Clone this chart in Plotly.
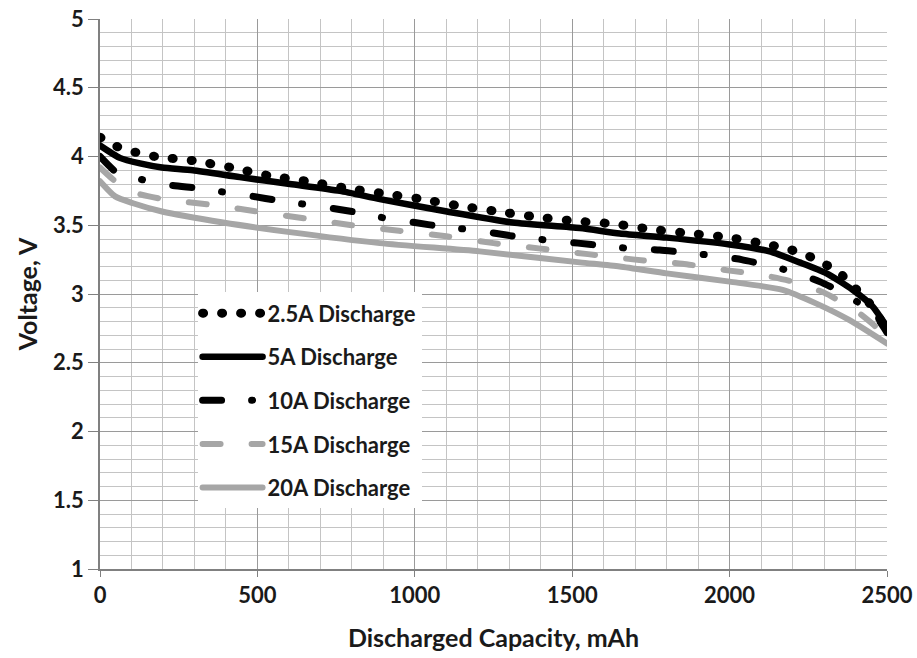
import plotly.graph_objects as go

# discharge curves (capacity in mAh, voltage in V)
cap_2_5a = [0, 57, 114, 175, 295, 416, 537, 657, 781, 902, 1022, 1143, 1264, 1387,
            1511, 1632, 1753, 1876, 2000, 2121, 2181, 2238, 2292, 2346, 2391, 2435, 2470, 2500]
volt_2_5a = [4.14, 4.07, 4.03, 4.00, 3.97, 3.92, 3.86, 3.82, 3.77, 3.73, 3.69, 3.64, 3.60, 3.56,
             3.53, 3.51, 3.47, 3.44, 3.41, 3.36, 3.33, 3.29, 3.23, 3.16, 3.06, 2.96, 2.85, 2.72]

cap_5a = [0, 63, 127, 197, 295, 444, 603, 762, 889, 1102, 1311, 1524, 1651, 1800,
          2000, 2127, 2222, 2308, 2391, 2454, 2500]
volt_5a = [4.08, 3.99, 3.95, 3.92, 3.90, 3.85, 3.80, 3.75, 3.69, 3.60, 3.52, 3.48, 3.44, 3.41,
           3.36, 3.31, 3.23, 3.15, 3.03, 2.91, 2.76]

cap_10a = [0, 55, 137, 228, 311, 397, 486, 565, 657, 746, 825, 910, 1000, 1086, 1168, 1260,
           1343, 1429, 1518, 1603, 1689, 1778, 1863, 1946, 2038, 2117, 2203, 2286, 2359, 2420,
           2470, 2500]
volt_10a = [4.00, 3.88, 3.83, 3.79, 3.77, 3.74, 3.71, 3.68, 3.65, 3.62, 3.59, 3.55, 3.52, 3.49,
            3.47, 3.44, 3.41, 3.39, 3.37, 3.35, 3.33, 3.32, 3.30, 3.28, 3.25, 3.21, 3.16, 3.09,
            3.01, 2.92, 2.82, 2.72]

cap_15a = [0, 54, 121, 200, 350, 500, 650, 800, 950, 1100, 1250, 1400, 1550, 1700, 1850,
           2000, 2100, 2200, 2300, 2400, 2460, 2500]
volt_15a = [3.92, 3.81, 3.73, 3.69, 3.65, 3.60, 3.55, 3.50, 3.46, 3.42, 3.37, 3.33, 3.29, 3.25,
            3.22, 3.17, 3.14, 3.09, 3.01, 2.88, 2.77, 2.68]

cap_20a = [0, 48, 105, 197, 391, 603, 889, 1206, 1524, 1651, 1800, 2000, 2168, 2276, 2381, 2500]
volt_20a = [3.82, 3.71, 3.66, 3.60, 3.52, 3.45, 3.37, 3.31, 3.23, 3.20, 3.15, 3.09, 3.03, 2.93,
            2.81, 2.64]

x_ticks = [0, 500, 1000, 1500, 2000, 2500]
y_ticks = [1, 1.5, 2, 2.5, 3, 3.5, 4, 4.5, 5]

BLACK = "#000000"
GREY = "#a6a6a6"
FONT = "Lato"

series = [
    ("2.5A Discharge", cap_2_5a, volt_2_5a, BLACK, 9, "1px,18px"),
    ("5A Discharge", cap_5a, volt_5a, BLACK, 6.5, "solid"),
    ("10A Discharge", cap_10a, volt_10a, BLACK, 7, "19px,30px,1px,31px"),
    ("15A Discharge", cap_15a, volt_15a, GREY, 6, "18px,31px"),
    ("20A Discharge", cap_20a, volt_20a, GREY, 6, "solid"),
]

fig = go.Figure()
for name, xs, ys, color, width, dash in series:
    fig.add_trace(
        go.Scatter(
            x=xs,
            y=ys,
            mode="lines",
            name=name,
            legendgroup=name,
            line={"color": color, "width": width, "dash": dash, "shape": "spline", "smoothing": 0.6},
        )
    )

fig.update_layout(
    width=917,
    height=658,
    paper_bgcolor="white",
    plot_bgcolor="white",
    margin={"l": 100, "r": 30, "t": 19, "b": 89},
    font={"family": FONT, "color": "#1a1a1a", "weight": "bold"},
    legend={
        "x": 0.124,
        "y": 0.503,
        "xanchor": "left",
        "yanchor": "top",
        "bgcolor": "white",
        "borderwidth": 0,
        "font": {"size": 22, "family": FONT, "weight": "bold", "color": "#1a1a1a"},
        "itemwidth": 60,
        "tracegroupgap": 12,
        "traceorder": "grouped",
    },
    xaxis={
        "range": [0, 2500],
        "automargin": False,
        "tickvals": x_ticks,
        "ticks": "outside",
        "ticklen": 6,
        "tickcolor": "#808080",
        "tickfont": {"size": 22, "family": FONT, "weight": "bold"},
        "showline": True,
        "linecolor": "#808080",
        "linewidth": 1.5,
        "showgrid": True,
        "gridcolor": "#9a9a9a",
        "gridwidth": 1.3,
        "minor": {"dtick": 100, "showgrid": True, "gridcolor": "#c4c4c4", "gridwidth": 1},
        "zeroline": False,
        "title": {"text": "Discharged Capacity, mAh", "font": {"size": 25, "family": FONT, "weight": "bold"},
                  "standoff": 22},
    },
    yaxis={
        "range": [1, 5],
        "automargin": False,
        "tickvals": y_ticks,
        "ticktext": [f"{v:g}" for v in y_ticks],
        "ticks": "outside",
        "ticklen": 10,
        "tickcolor": "#808080",
        "tickfont": {"size": 22, "family": FONT, "weight": "bold"},
        "showline": True,
        "linecolor": "#808080",
        "linewidth": 1.5,
        "showgrid": True,
        "gridcolor": "#9a9a9a",
        "gridwidth": 1.3,
        "minor": {"dtick": 0.1, "showgrid": True, "gridcolor": "#c4c4c4", "gridwidth": 1},
        "zeroline": False,
        "title": {"text": "Voltage, V", "font": {"size": 25, "family": FONT, "weight": "bold"},
                  "standoff": 8},
    },
)

# page margin off, and Excel-style round line caps so the dotted series draws round dots
round_caps = (
    "document.body.style.margin='0';"
    "var gd = document.getElementsByClassName('plotly-graph-div')[0];"
    "function rc(){gd.querySelectorAll('.js-line').forEach(function(p){"
    "p.style.strokeLinecap='round';p.style.strokeLinejoin='round';});}"
    "rc(); gd.on('plotly_afterplot', rc);"
)

fig.write_html("out.html", post_script=round_caps, config={"displayModeBar": False})
